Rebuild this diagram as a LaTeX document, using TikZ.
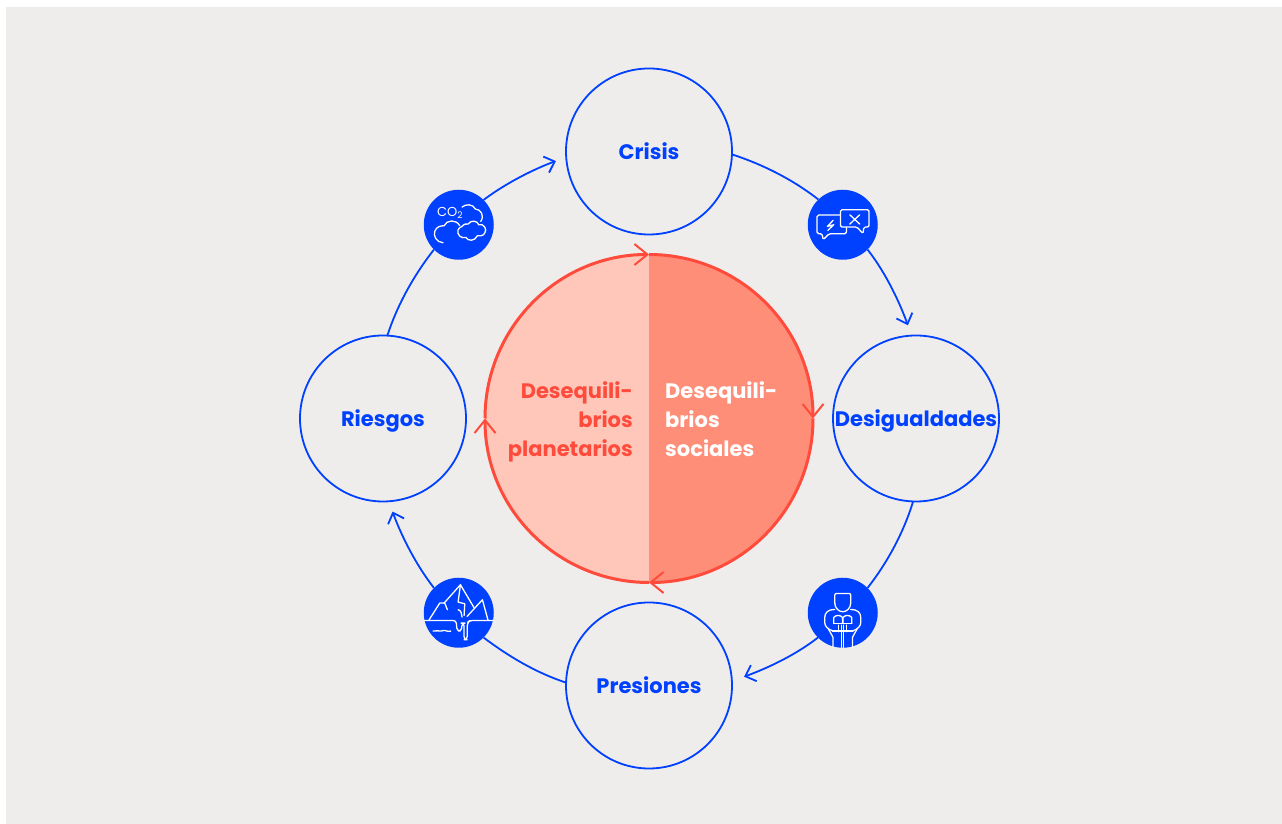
\documentclass[tikz,border=0pt]{standalone}
\usepackage{fontspec}
\setmainfont{Poppins}
\usetikzlibrary{arrows.meta,positioning}
\definecolor{panelgrey}{HTML}{EFEDEB}
\definecolor{ringblue}{HTML}{0040FF}
\definecolor{corered}{HTML}{FF4B3B}
\definecolor{corelight}{HTML}{FFC7BA}
\definecolor{coredark}{HTML}{FF8E78}
\tikzset{
    stage/.style={circle, draw=ringblue, line width=1.8pt, minimum size=166pt, inner sep=0pt, outer sep=0pt, text=ringblue, text height=16pt, text depth=0pt, font=\fontsize{21}{25}\selectfont\bfseries},
    badge/.style={circle, fill=ringblue, minimum size=70pt, inner sep=0pt, outer sep=0pt},
    ringarc/.style={ringblue, line width=1.8pt, looseness=.85},
    ringtip/.style={ringarc, -{Straight Barb[length=9pt,width=17pt,line width=1.8pt]}, shorten >=11pt},
    corearc/.style={corered, line width=3pt, -{Straight Barb[length=13pt,width=21pt,line width=2pt]}},
    coretext/.style={inner sep=0pt, font=\fontsize{21}{29}\selectfont\bfseries},
    glyph/.style={white, line width=1.3pt, line join=round, line cap=round},
    glyphframe/.style={x=.3333pt, y=-.3333pt},
}
\begin{document}
\begin{tikzpicture}[x=1pt, y=1pt, node distance=267pt]
    \useasboundingbox (0,0) rectangle (1282,824);
    \fill[panelgrey] (6,0) rectangle (1282,817);

    \node[circle, minimum size=328pt, inner sep=0pt, outer sep=0pt] (core) at (649,405.5) {};
    \node[stage, above of=core] (crisis) {Crisis};
    \node[stage, right of=core] (desig) {Desigualdades};
    \node[stage, below of=core] (presiones) {Presiones};
    \node[stage, left of=core, xshift=1pt] (riesgos) {Riesgos};
    \node[badge, above right of=core, node distance=274pt] (voces) {};
    \node[badge, below right of=core, node distance=274pt, yshift=-.5pt] (lector) {};
    \node[badge, below left of=core, node distance=274pt, xshift=3.5pt, yshift=-.5pt] (hielo) {};
    \node[badge, above left of=core, node distance=274pt, xshift=3.5pt] (nubes) {};

    % centre disc
    \fill[corelight] (core.north) arc[start angle=90, end angle=270, radius=164pt];
    \fill[coredark] (core.south) arc[start angle=-90, end angle=90, radius=164pt];
    \draw[corearc] (core.west) to[out=90, in=180] (core.north);
    \draw[corearc] (core.north) to[out=0, in=90] (core.east);
    \draw[corearc] (core.east) to[out=-90, in=0] (core.south);
    \draw[corearc] (core.south) to[out=180, in=-90] (core.west);
    \node[coretext, text=corered, align=right, left=16pt of core.center, yshift=-3pt] (planet) {Desequili-\\brios\\planetarios};
    \node[coretext, text=white, align=left, right=16pt of core.center, yshift=-1pt] (social) {Desequili-\\brios\\sociales};

    % outer ring
    \draw[ringarc] (crisis.-2) to[out=-18, in=142] (voces.134);
    \draw[ringtip] (voces.-45) to[out=-52, in=110] (desig.93);
    \draw[ringarc] (desig.-92) to[out=-107, in=52] (lector.45);
    \draw[ringtip, shorten >=13pt] (lector.-135) to[out=-142, in=20] (presiones.3);
    \draw[ringarc] (presiones.178) to[out=162, in=-37] (hielo.-45);
    \draw[ringtip] (hielo.135) to[out=128, in=-70] (riesgos.-86);
    \draw[ringarc] (riesgos.87) to[out=72, in=232] (nubes.-135);
    \draw[ringtip] (nubes.45) to[out=37, in=200] (crisis.184);

    % speech bubbles
    \begin{scope}[shift={(voces.center)}, glyphframe, shift={(-159,-165)}, glyph]
        \draw[rounded corners=1.5pt] (152,136) -- (82,136) -- (82,192) -- (97,192) -- (100,210) -- (118,192) -- (170,192) -- (170,174);
        \draw[rounded corners=1.5pt] (152,120) -- (238,120) -- (238,172) -- (222,172) -- (220,192) -- (202,172) -- (152,172) -- cycle;
        \draw (130,152) -- (113,170) -- (132,165) -- (114,182);
        \draw (180,135) -- (210,163) (210,135) -- (180,163);
    \end{scope}

    % reader
    \begin{scope}[shift={(lector.center)}, glyphframe, shift={(-159,-158)}, glyph]
        \draw (135,128) -- (135,106) .. controls (135,102) and (137,100) .. (141,100) -- (177,100) .. controls (181,100) and (183,102) .. (183,106) -- (183,128) .. controls (183,145) and (170,155) .. (159,155) .. controls (148,155) and (135,145) .. (135,128);
        \draw (135,148) .. controls (115,148) and (105,158) .. (105,172) -- (105,188) .. controls (105,198) and (115,208) .. (128,212);
        \draw (183,148) .. controls (203,148) and (213,158) .. (213,172) -- (213,188) .. controls (213,198) and (203,208) .. (190,212);
        \draw (132,190) -- (132,172) .. controls (140,163) and (152,165) .. (158,172) -- (158,190);
        \draw (186,190) -- (186,172) .. controls (178,163) and (166,165) .. (160,172) -- (160,190);
        \draw (132,190) -- (186,190) (147,195) -- (147,215) (171,195) -- (171,215) (128,213) -- (190,213);
        \draw (156,195) -- (156,262) (162,195) -- (162,262);
        \draw (115,205) -- (130,232) -- (130,262) (203,205) -- (188,232) -- (188,262);
    \end{scope}

    % iceberg
    \begin{scope}[shift={(hielo.center)}, glyphframe, shift={(-162,-157)}, glyph]
        \draw[rounded corners=3pt] (60,180) -- (154,180) -- (157,212) -- (170,212) -- (172,188) -- (178,188) -- (178,238) -- (187,238) -- (188,186) -- (196,180) -- (265,180);
        \draw (72,180) -- (105,128) -- (120,128) -- (128,148);
        \draw (118,128) -- (167,73) -- (208,142);
        \draw (167,73) -- (160,125) -- (180,130) -- (178,165);
        \draw (160,148) .. controls (170,150) and (170,160) .. (172,170);
        \draw (187,168) -- (233,118) -- (250,180);
        \draw (85,212) .. controls (95,206) and (100,216) .. (110,212) .. controls (120,206) and (128,216) .. (138,212);
    \end{scope}

    % clouds
    \begin{scope}[shift={(nubes.center)}, glyphframe, shift={(-162,-165)}, glyph]
        \node[text=white, inner sep=0pt, font=\fontsize{13}{15}\selectfont] (gas) at (136,130) {CO\textsubscript{2}};
        \draw (172,112) .. controls (182,102) and (205,102) .. (212,118) .. controls (228,118) and (240,138) .. (228,155);
        \draw (115,219) .. controls (95,218) and (85,198) .. (90,185) .. controls (95,170) and (108,168) .. (118,168) .. controls (125,150) and (155,148) .. (165,168);
        \draw (172,170) .. controls (178,162) and (185,162) .. (190,163) .. controls (198,150) and (218,152) .. (222,165) .. controls (238,160) and (248,180) .. (240,190) .. controls (235,200) and (225,198) .. (218,198) .. controls (210,215) and (190,215) .. (183,203) .. controls (170,208) and (155,195) .. (160,180) .. controls (162,175) and (167,172) .. (172,170);
    \end{scope}
\end{tikzpicture}
\end{document}
